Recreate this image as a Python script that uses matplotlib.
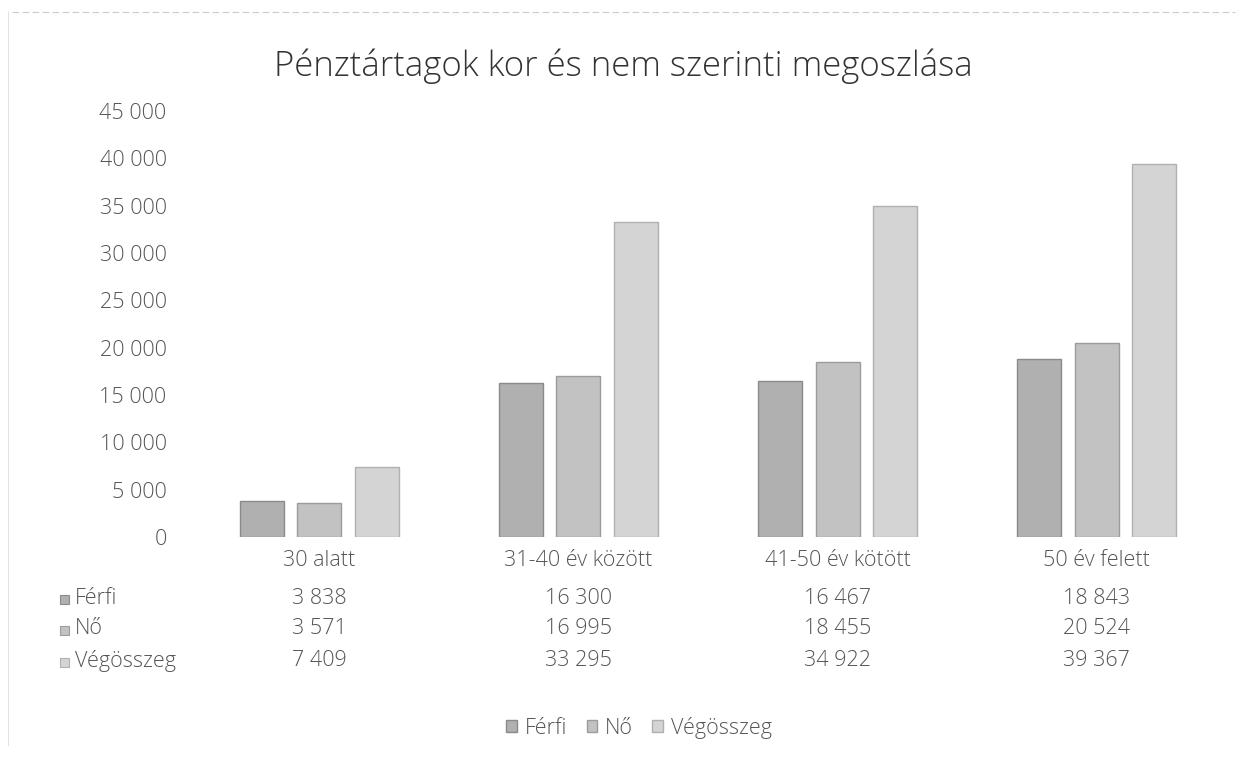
import matplotlib.pyplot as plt
from matplotlib.patches import Rectangle
from matplotlib.transforms import blended_transform_factory
import numpy as np

plt.rcParams["font.family"] = ["Open Sans", "DejaVu Sans"]

categories = ["30 alatt", "31-40 év között", "41-50 év kötött", "50 év felett"]
series = ["Férfi", "Nő", "Végösszeg"]
ferfi = [3838, 16300, 16467, 18843]
no = [3571, 16995, 18455, 20524]
vegosszeg = [7409, 33295, 34922, 39367]
yticks = [0, 5000, 10000, 15000, 20000, 25000, 30000, 35000, 40000, 45000]

values = [ferfi, no, vegosszeg]
fills = ["#b0b0b0", "#c2c2c2", "#d4d4d4"]
edges = ["#8a8a8a", "#9c9c9c", "#b0b0b0"]
text_color = "#555555"
fs = 15.5


def fmt(v):
    return f"{v:,}".replace(",", " ")


fig = plt.figure(figsize=(12.47, 7.6), dpi=100)
ax = fig.add_axes([189.5 / 1247, 1 - 537 / 760, 1037 / 1247, (537 - 111) / 760])

x = np.arange(len(categories))
step = 0.222
width = 0.17
for i, (name, vals) in enumerate(zip(series, values)):
    ax.bar(x + (i - 1) * step, vals, width=width, color=fills[i],
           edgecolor=edges[i], linewidth=1.0, label=name)

ax.set_xlim(-0.5, len(categories) - 0.5)
ax.set_ylim(0, 45000)
ax.set_yticks(yticks)
ax.set_yticklabels([fmt(v) for v in yticks])
ax.set_xticks([])
for side in ["top", "right", "left", "bottom"]:
    ax.spines[side].set_visible(False)
ax.tick_params(axis="y", length=0, pad=16.5, labelsize=fs, labelcolor=text_color)
for lbl in ax.get_yticklabels():
    lbl.set_fontweight("light")

fig.text(0.5, 1 - 66 / 760, "Pénztártagok kor és nem szerinti megoszlása",
         ha="center", va="center", fontsize=25, color="#333333",
         fontweight="light")

# data table under the chart
tr = blended_transform_factory(ax.transData, fig.transFigure)
row_y = [1 - 598 / 760, 1 - 629 / 760, 1 - 661 / 760]
cat_y = 1 - 560 / 760
for xi, cat in zip(x, categories):
    ax.text(xi, cat_y, cat, transform=tr, ha="center", va="center",
            fontsize=fs, color=text_color, fontweight="light")
for r, (name, vals) in enumerate(zip(series, values)):
    fig.patches.append(Rectangle((60 / 1247, row_y[r] - 0.008), 9 / 1247, 0.0118,
                                 transform=fig.transFigure, facecolor=fills[r],
                                 edgecolor=edges[r], linewidth=0.8))
    fig.text(75 / 1247, row_y[r], name, ha="left", va="center",
             fontsize=fs, color=text_color, fontweight="light")
    for xi, v in zip(x, vals):
        ax.text(xi, row_y[r], fmt(v), transform=tr, ha="center", va="center",
                fontsize=fs, color=text_color, fontweight="light")

leg = fig.legend(loc="center", bbox_to_anchor=(639 / 1247, 1 - 728 / 760), ncol=3,
                 frameon=False, fontsize=fs, handlelength=0.5, handleheight=0.5,
                 handletextpad=0.35, columnspacing=0.9)
for t in leg.get_texts():
    t.set_color(text_color)
    t.set_fontweight("light")

# faint scan border
fig.add_artist(plt.Line2D([0.01, 0.99], [1 - 12 / 760, 1 - 12 / 760],
                          transform=fig.transFigure, color="#cccccc",
                          linewidth=0.8, linestyle=(0, (6, 3))))
fig.add_artist(plt.Line2D([8 / 1247, 8 / 1247], [0.02, 0.985],
                          transform=fig.transFigure, color="#dddddd",
                          linewidth=0.6))

fig.savefig("out.png", dpi=100, facecolor="white")
